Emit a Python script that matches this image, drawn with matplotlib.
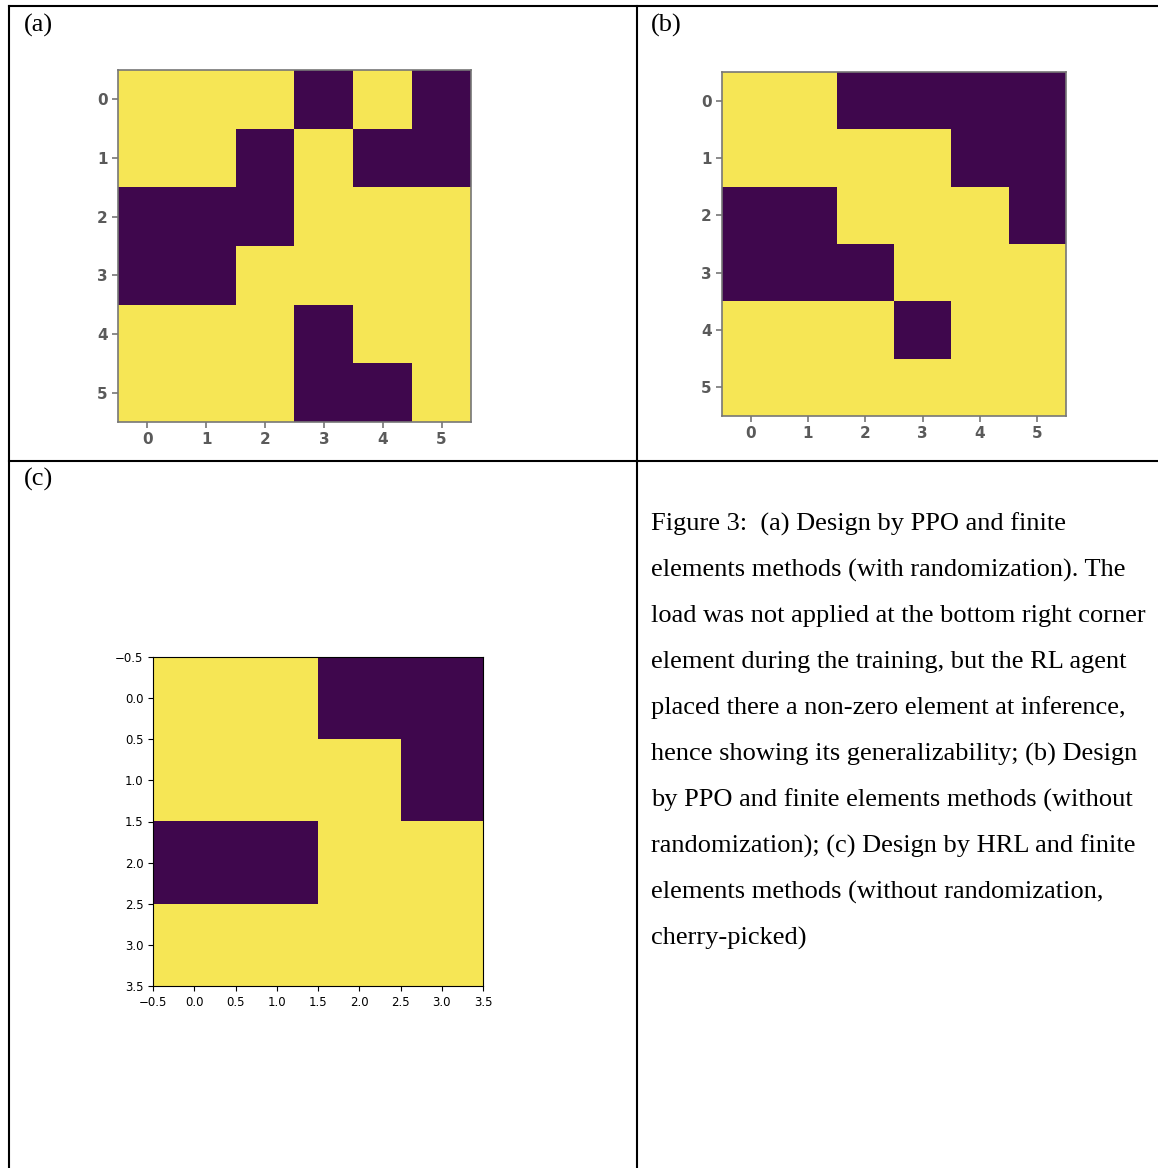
import matplotlib
matplotlib.use('Agg')
import matplotlib.pyplot as plt
from matplotlib.colors import ListedColormap
from matplotlib.lines import Line2D
import numpy as np

W, H = 1158, 1168

# design grids (1 = yellow / material, 0 = purple / void)
design_a = [[1, 1, 1, 0, 1, 0],
            [1, 1, 0, 1, 0, 0],
            [0, 0, 0, 1, 1, 1],
            [0, 0, 1, 1, 1, 1],
            [1, 1, 1, 0, 1, 1],
            [1, 1, 1, 0, 0, 1]]

design_b = [[1, 1, 0, 0, 0, 0],
            [1, 1, 1, 1, 0, 0],
            [0, 0, 1, 1, 1, 0],
            [0, 0, 0, 1, 1, 1],
            [1, 1, 1, 0, 1, 1],
            [1, 1, 1, 1, 1, 1]]

design_c = [[1, 1, 0, 0],
            [1, 1, 1, 0],
            [0, 0, 1, 1],
            [1, 1, 1, 1]]

ticks_6 = [0, 1, 2, 3, 4, 5]
ticks_c = [-0.5, 0.0, 0.5, 1.0, 1.5, 2.0, 2.5, 3.0, 3.5]

caption_lines = ['Figure 3:  (a) Design by PPO and finite',
                 'elements methods (with randomization). The',
                 'load was not applied at the bottom right corner',
                 'element during the training, but the RL agent',
                 'placed there a non-zero element at inference,',
                 'hence showing its generalizability; (b) Design',
                 'by PPO and finite elements methods (without',
                 'randomization); (c) Design by HRL and finite',
                 'elements methods (without randomization,',
                 'cherry-picked)']

cmap = ListedColormap(['#3f074d', '#f6e655'])
serif = ['Liberation Serif', 'DejaVu Serif']


def px_axes(fig, x0, y0, x1, y1):
    """ add an axes from pixel corners (top-left origin)"""
    return fig.add_axes([x0 / W, 1 - y1 / H, (x1 - x0) / W, (y1 - y0) / H])


def fx(x):
    return x / W


def fy(y):
    return 1 - y / H


fig = plt.figure(figsize=(W / 100, H / 100), dpi=100)

# table borders
for (x0, y0, x1, y1) in [(9, 6, 1158, 6), (9, 461, 1158, 461),
                         (9, 6, 9, 1168), (637, 6, 637, 1168)]:
    fig.add_artist(Line2D([fx(x0), fx(x1)], [fy(y0), fy(y1)],
                          color='black', linewidth=1.5))

# panel labels
for label, x, y in [('(a)', 24, 25), ('(b)', 651, 25), ('(c)', 24, 479)]:
    fig.text(fx(x), fy(y), label, fontsize=19, family=serif,
             va='center', ha='left')

# (a) and (b): screenshots of small 6x6 grids
for data, box in [(design_a, (118, 70, 471, 422)), (design_b, (722, 72, 1066, 416))]:
    ax = px_axes(fig, *box)
    ax.imshow(np.array(data), cmap=cmap, vmin=0, vmax=1, aspect='auto')
    ax.set_xticks(ticks_6)
    ax.set_yticks(ticks_6)
    ax.tick_params(colors='#777777', labelcolor='#5a5a5a', labelsize=11,
                   length=4, width=1.2)
    for lab in ax.get_xticklabels() + ax.get_yticklabels():
        lab.set_fontweight('bold')
    for s in ax.spines.values():
        s.set_color('#777777')
        s.set_linewidth(1.2)

# (c): 4x4 grid
ax = px_axes(fig, 153, 657, 483, 986)
ax.imshow(np.array(design_c), cmap=cmap, vmin=0, vmax=1, aspect='auto')
ax.set_xticks(ticks_c)
ax.set_yticks(ticks_c)
ax.tick_params(labelsize=8.5, length=3.5, width=0.8)
for s in ax.spines.values():
    s.set_linewidth(0.8)

# caption
for i, line in enumerate(caption_lines):
    fig.text(fx(651), fy(524 + i * 46.0), line, fontsize=19, family=serif,
             va='center', ha='left')

fig.savefig('out.png', dpi=100)
